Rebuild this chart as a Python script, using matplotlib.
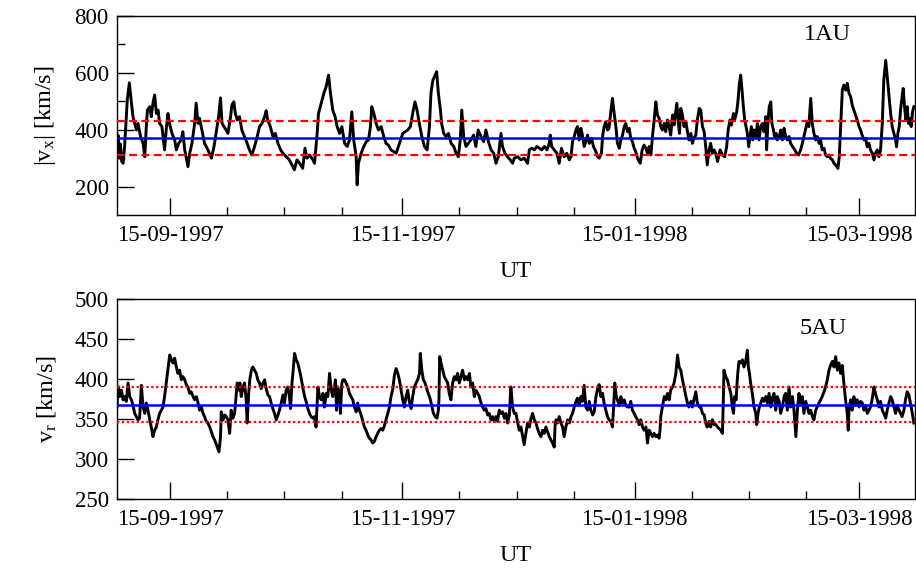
import numpy as np
import matplotlib
matplotlib.use("Agg")
import matplotlib.pyplot as plt
import matplotlib.dates as mdates
from matplotlib.ticker import FixedLocator

plt.rcParams['font.family'] = ['Liberation Serif', 'DejaVu Serif']
plt.rcParams['mathtext.fontset'] = 'custom'
plt.rcParams['mathtext.rm'] = 'Liberation Serif'
plt.rcParams['mathtext.it'] = 'Liberation Serif:italic'

# ---------------- data (days since 1997-09-01 00:00 UT) ----------------
start_date = '1997-09-01T00:00'
end_day = 209.7

top_days = [
    0.0, 0.3, 0.6, 0.9, 1.2, 1.6, 2.0, 2.7, 3.25, 3.8, 4.2, 4.65, 5.1, 5.5, 6.2, 6.85, 7.3, 7.7, 8.0, 8.6,
    9.0, 9.5, 9.9, 10.35, 10.8, 11.2, 11.8, 12.5, 13.0, 13.4, 13.8, 14.45, 15.15, 15.6, 16.2, 16.9, 17.3,
    17.8, 18.65, 19.1, 19.7, 20.4, 20.8, 21.3, 21.7, 22.3, 23.0, 23.9, 24.8, 25.5, 26.1, 26.7, 27.2, 27.6,
    28.1, 28.7, 29.15, 29.85, 30.2, 30.7, 31.1, 31.6, 32.2, 32.8, 33.5, 34.2, 34.8, 35.45, 36.15, 36.85,
    37.45, 38.1, 38.8, 39.2, 39.6, 40.3, 41.0, 41.6, 42.3, 43.0, 43.6, 44.5, 45.3, 46.2, 46.6, 47.3, 48.0,
    48.8, 49.4, 49.9, 50.6, 51.5,
    51.9, 52.6, 52.95, 53.65, 54.35, 54.95, 55.6, 56.1, 56.7, 57.3, 57.85, 58.5, 59.1, 59.8, 60.5, 61.1,
    61.7, 62.2, 62.85, 63.1, 63.45, 64.15, 64.85, 65.5, 66.1, 66.6, 66.95, 67.5, 68.1, 68.7, 69.4, 70.1,
    70.7, 71.3, 72.0, 72.7, 73.35, 73.95, 74.5, 75.1, 75.7, 76.4, 77.1, 77.7, 78.3, 78.85, 79.45, 80.1,
    80.8, 81.5, 82.1, 82.5, 83.0, 83.6, 84.0, 84.45, 85.0, 85.3, 85.85, 86.45, 87.1, 87.8, 88.5, 89.1,
    89.7, 90.2, 90.6, 91.1, 91.7, 92.3, 93.0, 93.7, 94.3, 94.9, 95.65, 96.35, 96.95, 97.6, 98.3, 99.0,
    99.6, 100.2, 100.9, 101.3, 101.95, 102.6, 103.35, 103.95,
    104.4, 105.3, 106.15, 107.0, 107.9, 108.35, 108.95, 109.65, 110.35, 110.95, 111.6, 112.3, 113.0,
    113.6, 113.85, 114.2, 114.9, 115.6, 116.2, 116.8, 117.5, 118.2, 118.85, 119.3, 119.7, 120.15, 120.6,
    121.0, 121.45, 121.9, 122.3, 122.75, 123.2, 123.65, 124.1, 124.7, 125.2, 125.85, 126.3, 126.7, 127.3,
    127.6, 128.0, 128.45, 128.9, 129.3, 129.8, 130.2, 130.65, 131.1, 131.5, 132.0, 132.4, 132.85, 133.3,
    133.7, 134.15, 134.6, 135.0, 135.45, 135.9, 136.3, 136.95, 137.5, 138.0, 138.5, 139.0, 139.4, 139.85,
    140.3, 140.7, 141.15, 141.6, 142.0, 142.45, 142.9, 143.3, 143.8, 144.2, 144.65, 145.1, 145.5, 146.0,
    146.4, 147.1, 147.45, 147.8, 148.15, 148.6, 149.0, 149.5, 149.9, 150.3, 150.8, 151.2, 151.6, 152.1,
    152.5, 153.0, 153.4, 153.85, 154.3, 154.7, 155.1, 155.6, 156.0, 156.45,
    156.9, 157.35, 157.8, 158.5, 159.1, 159.7, 160.2, 160.6, 161.1, 161.45, 162.0, 162.3, 162.85, 163.2,
    163.55, 163.9, 164.25, 164.6, 164.95, 165.3, 165.65, 166.0, 166.35, 166.7, 167.05, 167.4, 167.85,
    168.3, 168.7, 169.15, 169.6, 170.0, 170.5, 170.7, 171.1, 171.4, 171.8, 172.1, 172.5, 172.8, 173.2,
    173.5, 174.0, 174.4, 174.85, 175.3, 175.7, 176.15, 176.6, 177.0, 177.55, 178.1, 178.6, 179.1, 179.65,
    180.1, 180.5, 181.0, 181.4, 181.8, 182.3, 182.7, 183.15, 183.6, 184.0, 184.5, 184.9, 185.3, 185.8,
    186.2, 186.65, 187.1, 187.5, 188.0, 188.4, 188.85, 189.45, 189.8, 190.15, 190.6, 191.0, 191.5, 191.9,
    192.35, 192.8, 193.2, 193.65, 194.1, 194.5, 195.0, 195.4, 195.8, 196.3, 196.7, 197.15, 197.6, 198.0,
    198.5, 198.9, 199.3, 199.8, 200.2, 200.65, 201.1, 201.5, 202.0, 202.4, 202.8, 203.3, 203.7, 204.15,
    204.6, 204.85, 205.2, 205.55, 205.9, 206.3, 206.6, 206.95, 207.3, 207.65, 208.0, 208.35, 208.7,
    209.05, 209.4,
]
top_vals = [
    340, 380, 300, 350, 290, 282, 341, 504, 565, 493, 446, 422, 399, 422, 376, 352, 305, 411, 469, 481,
    446, 498, 522, 457, 469, 422, 411, 329, 411, 457, 422, 387, 364, 329, 352, 364, 393,
    329, 270, 317, 352, 422, 493, 422, 440, 399, 352, 329, 300, 341, 393, 446, 512, 422,
    411, 399, 387, 446, 487, 498, 457, 434, 446, 399, 376, 352, 329, 311, 341, 376,
    411, 422, 446, 467, 434, 411, 376, 387, 352, 329, 317, 305, 294, 270, 259, 294, 282,
    264, 335, 300, 311, 294,
    282, 387, 457, 493, 528, 551, 592, 528, 469, 446, 411, 387, 411, 352, 341, 364,
    463, 364, 305, 206, 282, 317, 341, 358, 364, 411, 481, 457, 422, 399, 411, 376,
    352, 346, 329, 323, 317, 341, 364, 387, 393, 399, 411, 457, 498, 469, 422, 376,
    341, 329, 411, 528, 574, 592, 604, 528, 469, 422, 387, 376, 387, 352, 341, 317,
    305, 364, 469, 376, 341, 352, 364, 381, 341, 399, 376, 358, 399, 358, 329, 317,
    282, 305, 387, 341, 317, 305, 294, 282,
    300, 305, 294, 300, 282, 329, 335, 329, 341, 335, 329, 341, 329,
    352, 381, 341, 329, 317, 282, 335, 305, 317, 294, 305, 358, 376, 399,
    411, 364, 405, 381, 341, 358, 381, 352, 370, 341, 323, 305, 300, 317,
    376, 411, 428, 399, 405, 469, 510, 457, 411, 352, 335, 364, 381, 411,
    422, 393, 405, 370, 358, 335, 323, 294, 282, 329, 346, 335, 317, 341,
    311, 376, 434, 498, 452, 440, 411, 399, 422, 393, 434, 411, 381, 452,
    417, 493, 434, 387, 475, 452, 411, 428, 393, 364, 387, 352, 370, 381,
    434, 475, 469, 411, 393, 341, 276, 329, 352, 317,
    329, 317, 288, 329, 311, 305, 340, 399, 434, 416, 457, 434, 463, 504,
    563, 592, 539, 481, 434, 411, 387, 340, 376, 411, 364, 399, 376,
    422, 364, 411, 422, 393, 446, 329, 434, 481, 498, 422, 399, 376, 387,
    364, 376, 399, 364, 405, 376, 364, 376, 352, 340, 329, 317, 311, 329,
    352, 376, 405, 428, 411, 510, 422, 387, 364, 376, 352, 364, 329, 335,
    311, 305, 311, 299, 294, 282, 276, 264, 305, 411, 539, 557, 539, 563,
    528, 516, 487, 469, 452, 434, 411, 399, 381, 364, 370, 340, 352, 329,
    317, 294, 317, 329, 305, 329, 422, 574, 644, 586, 528, 457, 411, 387,
    364, 340, 387, 411, 469, 516, 545, 481, 434, 481, 422, 440, 411,
    463, 481,
]
top_mean = 372
top_band = [312, 432]

bot_days = [
    0.0, 0.2, 0.45, 0.7, 1.15, 1.6, 2.0, 2.45, 2.9, 3.35, 3.8, 4.2, 4.65, 5.1, 5.5, 5.95, 6.4, 6.85, 7.3,
    7.7, 8.15, 8.6, 9.0, 9.45, 9.9, 10.35, 10.75, 11.2, 11.65, 12.1, 12.5, 12.95, 13.4, 13.85, 14.3, 14.7,
    15.15, 15.6, 16.0, 16.45, 16.9, 17.3, 17.8, 18.2, 18.65, 19.1, 19.5, 20.0, 20.4, 20.85, 21.3, 21.7,
    22.15, 22.6, 23.0, 23.45, 23.9, 24.35, 24.8, 25.2, 25.65, 26.1, 26.5, 26.8, 27.2, 27.4, 27.85, 28.3,
    28.7, 29.15, 29.6, 30.0, 30.45, 30.9, 31.3, 31.6, 31.95, 32.3, 32.65, 33.1, 33.5, 33.95, 34.2, 34.6,
    34.9, 35.3, 35.7, 36.15, 36.6, 37.0, 37.45, 37.9, 38.35, 38.8, 39.2, 39.65, 40.1, 40.5, 40.95, 41.4,
    41.85, 42.3, 42.7, 43.15, 43.6, 44.0, 44.45, 44.9, 45.3, 45.6, 45.95, 46.3, 46.65, 47.1, 47.5, 47.95,
    48.4, 48.8, 49.3, 49.7, 50.15, 50.6, 51.0, 51.45, 51.9, 52.3,
    52.8, 53.2, 53.65, 54.1, 54.5, 55.0, 55.4, 55.85, 56.3, 56.7, 57.15, 57.4, 57.7, 58.0, 58.5, 58.7,
    59.1, 59.35, 59.8, 60.2, 60.65, 61.1, 61.5, 61.95, 62.4, 62.85, 63.25, 63.7, 64.15, 64.6, 65.0, 65.45,
    65.9, 66.3, 66.75, 67.2, 67.65, 68.1, 68.5, 68.95, 69.4, 69.85, 70.3, 70.7, 71.15, 71.6, 72.0, 72.5,
    72.9, 73.35, 73.8, 74.2, 74.65, 75.1, 75.5, 75.95, 76.4, 76.8, 77.3, 77.7, 78.15, 78.6, 79.0, 79.5,
    79.7, 80.1, 80.5, 80.95, 81.4, 81.8, 82.25, 82.7, 83.15, 83.6, 84.1, 84.45, 84.6, 84.8, 85.15, 85.6,
    86.0, 86.45, 86.9, 87.3, 87.75, 88.2, 88.65, 89.1, 89.5, 89.95, 90.4, 90.8, 91.3, 91.7, 92.15, 92.6,
    93.0, 93.45, 93.9, 94.3, 94.8, 95.2, 95.65, 96.1, 96.5, 96.95, 97.4, 97.8, 98.3, 98.7, 99.15, 99.6,
    100.0, 100.45, 100.9, 101.3, 101.8, 102.2, 102.65, 103.1, 103.5, 103.95, 104.4,
    104.85, 105.3, 105.7, 106.15, 106.6, 107.0, 107.45, 107.9, 108.35, 108.8, 109.2, 109.65, 110.1, 110.5,
    110.95, 111.4, 111.85, 112.3, 112.7, 113.15, 113.6, 114.0, 114.45, 114.9, 115.15, 115.4, 115.75,
    116.2, 116.65, 117.1, 117.5, 117.95, 118.4, 118.85, 119.3, 119.7, 120.15, 120.6, 121.0, 121.45, 121.9,
    122.3, 122.75, 123.2, 123.65, 124.1, 124.5, 125.0, 125.4, 125.85, 126.3, 126.7, 127.15, 127.6, 128.0,
    128.45, 128.9, 129.3, 129.8, 130.2, 130.5, 130.8, 131.2, 131.5, 132.0, 132.4, 132.85, 133.3, 133.7,
    134.15, 134.6, 135.0, 135.45, 135.9, 136.3, 136.8, 137.2, 137.65, 138.1, 138.5, 139.0, 139.4, 139.85,
    140.3, 140.7, 141.15, 141.6, 142.0, 142.45, 142.7, 142.9, 143.3, 143.8, 144.2, 144.65, 145.1, 145.5,
    146.0, 146.4, 146.85, 147.3, 147.7, 148.15, 148.6, 149.0, 149.5, 149.9, 150.3, 150.8, 151.2, 151.6,
    152.1, 152.5, 153.0, 153.4, 153.85, 154.3, 154.7, 155.1, 155.6, 156.0, 156.45, 156.9,
    157.35, 157.8, 158.2, 158.65, 159.1, 159.35, 159.5, 159.95, 160.4, 160.85, 161.3, 161.7, 162.0, 162.3,
    162.7, 163.0, 163.2, 163.45, 163.9, 164.35, 164.75, 165.2, 165.65, 165.9, 166.2, 166.5, 166.95, 167.4,
    167.85, 168.1, 168.45, 168.8, 169.15, 169.6, 170.0, 170.5, 170.9, 171.35, 171.8, 172.2, 172.65, 173.1,
    173.5, 174.0, 174.4, 174.85, 175.3, 175.7, 176.15, 176.6, 177.0, 177.5, 177.9, 178.2, 178.4, 178.8,
    179.2, 179.65, 180.1, 180.5, 181.0, 181.4, 181.85, 182.3, 182.7, 183.15, 183.6, 184.0, 184.45, 184.9,
    185.3, 185.8, 186.2, 186.65, 187.1, 187.5, 188.0, 188.4, 188.85, 189.3, 189.7, 190.15, 190.6, 191.0,
    191.45, 191.9, 192.15, 192.4, 192.8, 193.2, 193.65, 194.1, 194.5, 195.0, 195.4, 195.85, 196.3, 196.7,
    197.15, 197.6, 198.0, 198.5, 198.9, 199.3, 199.8, 200.2, 200.65, 201.1, 201.5, 202.0, 202.4, 202.85,
    203.3, 203.7, 204.15, 204.6, 205.0, 205.5, 205.9, 206.3, 206.8, 207.2, 207.65, 208.1, 208.5, 209.0,
    209.4,
]
bot_vals = [
    365, 385, 390, 378, 386, 374, 378, 372, 395, 378, 374, 367, 357, 353, 349, 351, 392, 365, 357,
    370, 361, 349, 340, 328, 336, 340, 349, 357, 361, 365, 378, 395, 411, 430, 424, 420,
    426, 415, 407, 411, 399, 403, 399, 393, 390, 382, 384, 378, 374, 378, 370, 361,
    365, 357, 353, 347, 345, 340, 334, 328, 324, 318, 313, 309, 328, 359, 349, 355,
    353, 349, 332, 361, 351, 357, 378, 395, 386, 395, 378, 390, 395, 374, 345, 382,
    399, 411, 415, 411, 407, 399, 395, 388, 395, 399, 388, 380, 378, 370, 363, 357,
    349, 355, 361, 370, 380, 370, 386, 390, 378, 363, 393, 411, 432, 424, 420, 411,
    401, 390, 378, 372, 363, 357, 353, 351, 353, 340,
    390, 378, 374, 382, 365, 382, 378, 407, 386, 378, 390, 399, 361, 390, 380, 357,
    395, 399, 399, 395, 390, 382, 378, 374, 365, 359, 370, 361, 355, 347, 340, 336,
    330, 326, 324, 320, 322, 328, 332, 336, 338, 336, 342, 349, 357, 365, 378, 388,
    405, 413, 407, 399, 386, 374, 365, 378, 386, 372, 363, 378, 390, 395, 399, 407,
    432, 411, 399, 395, 388, 382, 376, 367, 357, 353, 351, 361, 374, 428, 420, 411,
    403, 399, 395, 382, 374, 395, 403, 399, 407, 395, 403, 411, 399, 403, 399, 407,
    390, 395, 378, 386, 382, 378, 370, 365, 361, 363, 355, 357, 349, 353, 347, 353,
    347, 361, 357, 359, 351, 357, 345, 355, 390, 365, 357,
    357, 345, 336, 340, 328, 318, 332, 345, 340, 351, 357, 349, 345, 338,
    332, 328, 336, 332, 340, 334, 328, 324, 320, 315, 345, 349, 345,
    353, 345, 340, 328, 340, 349, 345, 353, 357, 365, 372, 376, 367, 378,
    372, 392, 365, 361, 372, 361, 355, 359, 378, 388, 393, 378, 382, 370,
    361, 353, 349, 347, 340, 365, 395, 378, 374, 367, 378, 370, 374, 367,
    365, 365, 372, 361, 357, 353, 349, 343, 349, 340, 336, 340, 320, 336,
    332, 328, 332, 328, 330, 326, 336, 353, 365, 378, 374, 382, 374, 386,
    390, 395, 407, 430, 415, 411, 399, 390, 378, 370, 365, 372, 365, 374,
    384, 370, 365, 365, 357, 355, 345, 340, 347, 340, 349, 343,
    343, 340, 338, 336, 332, 378, 411, 403, 399, 390, 382, 365, 357, 378,
    374, 399, 411, 422, 420, 424, 415, 422, 436, 415, 407, 395, 382, 365,
    357, 343, 357, 365, 370, 376, 372, 378, 370, 382, 365, 376, 382, 361,
    378, 372, 357, 365, 378, 382, 361, 390, 365, 378, 361, 340, 328, 361,
    382, 370, 378, 357, 372, 365, 357, 361, 353, 349, 361, 365, 370, 374,
    378, 384, 390, 399, 411, 417, 422, 415, 428, 411, 420, 407, 417, 395,
    374, 357, 336, 365, 374, 361, 378, 367, 374, 365, 372, 370, 361, 367,
    357, 361, 365, 376, 390, 382, 374, 365, 372, 361, 357, 351, 361, 370,
    378, 374, 365, 357, 367, 361, 357, 353, 361, 374, 384, 380, 370, 357,
    345,
]
bot_mean = 368
bot_band = [346, 390]

major_dates = ['1997-09-15', '1997-11-15', '1998-01-15', '1998-03-15']
major_labels = ['15-09-1997', '15-11-1997', '15-01-1998', '15-03-1998']
minor_offsets_days = [15, 30, 45]

top_yticks = [200, 400, 600, 800]
top_yminor = [300, 500, 700]
bot_yticks = [250, 300, 350, 400, 450, 500]

# ---------------- plotting ----------------
t0 = np.datetime64(start_date)


def to_time(days):
    return t0 + (np.asarray(days) * 24 * 60).round().astype('timedelta64[m]')


t_top = to_time(top_days)
t_bot = to_time(bot_days)
xmin, xmax = to_time([0.0, end_day])

maj = np.array(major_dates, dtype='datetime64[D]')
minor = []
for i, d in enumerate(maj):
    for off in minor_offsets_days:
        m = d + np.timedelta64(off, 'D')
        if i + 1 < len(maj) and m >= maj[i + 1]:
            continue
        minor.append(m)
minor = np.array(minor)

fig = plt.figure(figsize=(9.16, 5.73), dpi=100)
W, H = 916.0, 573.0
ax1 = fig.add_axes([117 / W, 1 - 215 / H, 798 / W, 199 / H])
ax2 = fig.add_axes([117 / W, 1 - 499 / H, 798 / W, 200 / H])

FS_T = 16.5
FS_L = 17.5

panels = [
    (ax1, t_top, top_vals, top_mean, top_band, (100, 800), (0, (3.5, 2.0)), '1AU', (0.89, 0.905),
     r'$|\mathrm{v}_{\mathrm{x}}|$ [km/s]'),
    (ax2, t_bot, bot_vals, bot_mean, bot_band, (250, 500), (0, (1.0, 1.2)), '5AU', (0.885, 0.855),
     r'$\mathrm{v}_{\mathrm{r}}$ [km/s]'),
]

for ax, tt, vv, mean, band, ylim, ls, tag, tagpos, ylab in panels:
    ax.plot(tt, vv, color='black', lw=2.1, solid_joinstyle='round', zorder=3)
    ax.axhline(mean, color='#0000ff', lw=1.8, zorder=4)
    for b in band:
        ax.axhline(b, color='#ff0000', lw=1.6, linestyle=ls, zorder=4)
    ax.set_xlim(xmin, xmax)
    ax.set_ylim(*ylim)
    ax.xaxis.set_major_locator(FixedLocator(mdates.date2num(maj)))
    ax.xaxis.set_minor_locator(FixedLocator(mdates.date2num(minor)))
    ax.set_xticklabels(major_labels)
    ax.tick_params(axis='both', which='major', direction='in', length=12, width=1.0,
                   labelsize=FS_T, pad=7)
    ax.tick_params(axis='both', which='minor', direction='in', length=6, width=1.0)
    ax.tick_params(axis='y', which='major', pad=6)
    ax.set_xlabel('UT', fontsize=FS_L, labelpad=11)
    ax.set_ylabel(ylab, fontsize=FS_L, labelpad=12)
    ax.text(tagpos[0], tagpos[1], tag, transform=ax.transAxes, fontsize=FS_L,
            ha='center', va='center')
    for s in ax.spines.values():
        s.set_linewidth(1.0)

ax1.set_yticks(top_yticks)
ax1.yaxis.set_minor_locator(FixedLocator(top_yminor))
ax2.set_yticks(bot_yticks)

fig.savefig('out.png', dpi=100)
